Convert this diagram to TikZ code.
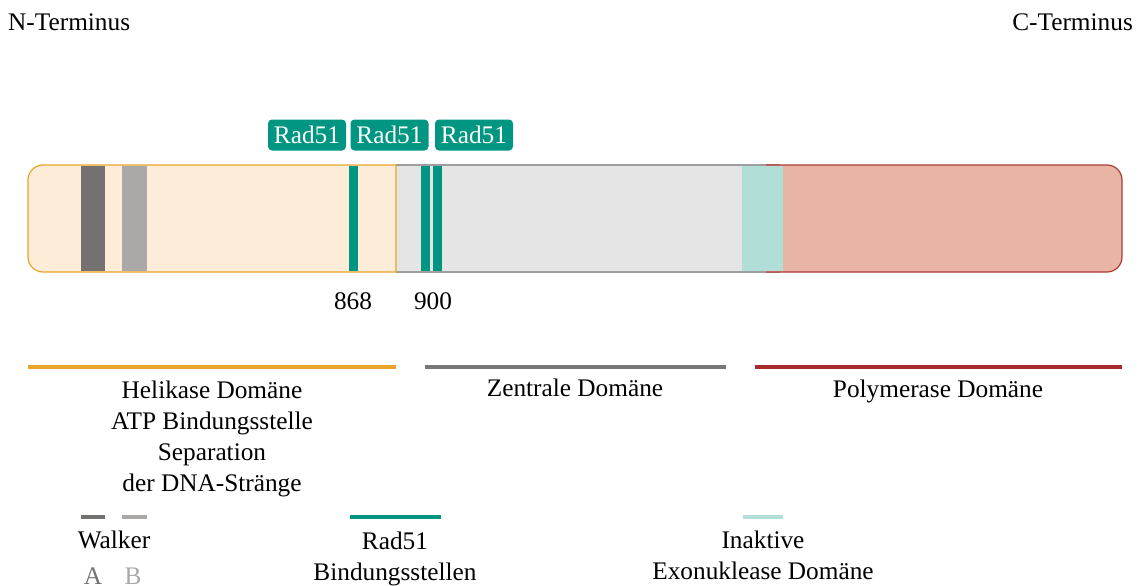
\documentclass[tikz,border=0pt]{standalone}
\usepackage{fontspec}
\setmainfont{Liberation Serif}
\definecolor{helifill}{HTML}{FDEDD8}
\definecolor{heliline}{HTML}{E9A42C}
\definecolor{zentfill}{HTML}{E5E5E5}
\definecolor{zentline}{HTML}{9E9E9E}
\definecolor{zentleg}{HTML}{777777}
\definecolor{polyfill}{HTML}{E8B5A5}
\definecolor{polyline}{HTML}{B03838}
\definecolor{polyleg}{HTML}{A82A2A}
\definecolor{exofill}{HTML}{B2DED8}
\definecolor{radteal}{HTML}{009682}
\definecolor{walkA}{HTML}{757170}
\definecolor{walkB}{HTML}{ABA9A8}
\tikzset{
 lbl/.style={inner sep=0pt,align=center,font=\fontsize{25.3}{31}\selectfont},
 badge/.style={lbl,fill=radteal,text=white,rounded corners=4pt,minimum width=78pt,minimum height=31pt},
 legline/.style={line width=4pt}
}
\begin{document}
\begin{tikzpicture}[x=1pt,y=-1pt]
\useasboundingbox (0,0) rectangle (1140,586);
% ends
\node [lbl,anchor=west] (nterm) at (8,22) {N-Terminus};
\node [lbl,anchor=east] (cterm) at (1133,22) {C-Terminus};
% protein bar
\fill[zentfill] (396,165) rectangle (780,272);
\draw[zentline,line width=1.2pt] (396,165) -- (780,165) (396,272) -- (780,272);
\draw[polyline,fill=polyfill,line width=1.2pt] (766,165) [rounded corners=15pt] -- (1122,165) -- (1122,272) [sharp corners] -- (766,272);
\fill[polyfill] (766,165.6) rectangle (790,271.4);
\draw[heliline,fill=helifill,line width=1.2pt] (396,165) [rounded corners=15pt] -- (28,165) -- (28,272) [sharp corners] -- (396,272) -- cycle;
\fill[exofill] (742,165.6) rectangle (783,271.4);
\fill[walkA] (81,165.6) rectangle (105,271.4);
\fill[walkB] (122,165.6) rectangle (147,271.4);
\foreach \xa in {349,421,433}
 \fill[radteal] (\xa,165.6) rectangle (\xa+8.5,271.4);
% Rad51 sites
\node [badge] (rad1) at (307,135) {Rad51};
\node [badge] (rad2) at (389.5,135) {Rad51};
\node [badge] (rad3) at (474,135) {Rad51};
\node [lbl] (pos868) at (353,301) {868};
\node [lbl] (pos900) at (433,301) {900};
% domains
\draw[heliline,legline] (28,367) -- (396,367);
\draw[zentleg,legline] (425,367) -- (726,367);
\draw[polyleg,legline] (755,367) -- (1122,367);
\node [lbl] (heli) at (212,438.5) {Helikase Domäne\\ATP Bindungsstelle\\Separation\\der DNA-Stränge};
\node [lbl] (zent) at (575,388) {Zentrale Domäne};
\node [lbl] (poly) at (938,391) {Polymerase Domäne};
% legend
\draw[walkA,line width=3.5pt] (81,517) -- (105,517);
\draw[walkB,line width=3.5pt] (122,517) -- (147,517);
\draw[radteal,line width=3.5pt] (350,517) -- (441,517);
\draw[exofill,line width=3.5pt] (743,517) -- (783,517);
\node [lbl] (walker) at (114,540) {Walker};
\node [lbl,text=walkA] (walkerA) at (93,576) {A};
\node [lbl,text=walkB] (walkerB) at (133,576) {B};
\node [lbl] (radleg) at (395,558.5) {Rad51\\Bindungsstellen};
\node [lbl] (exoleg) at (763,555) {Inaktive\\Exonuklease Domäne};
\end{tikzpicture}
\end{document}
